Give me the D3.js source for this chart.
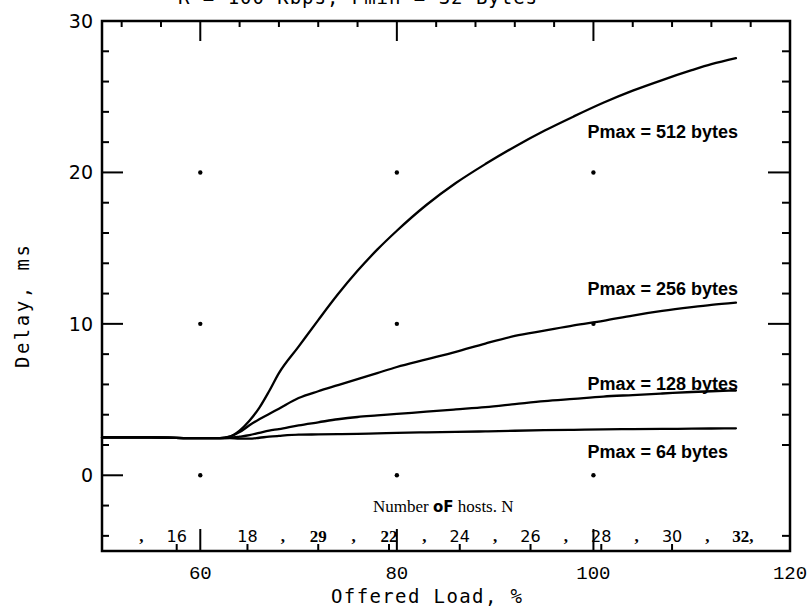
<!DOCTYPE html>
<html>
<head>
<meta charset="utf-8">
<script src="https://cdn.jsdelivr.net/npm/d3@7"></script>
<style>
  html, body { margin: 0; padding: 0; background: #fff; }
  svg { display: block; }
  .frame { fill: none; stroke: #000; stroke-width: 2.5; }
  .tick { stroke: #000; stroke-width: 2; }
  .curve { fill: none; stroke: #000; stroke-width: 2.3; stroke-linejoin: round; stroke-linecap: round; }
  .ylab { font-family: "DejaVu Sans", sans-serif; font-size: 19px; fill: #000; }
  .xlab { font-family: "Liberation Mono", monospace; font-size: 19px; fill: #000; }
  .axtitle { font-family: "DejaVu Sans Mono", monospace; font-size: 19px; fill: #000; }
  .series { font-family: "Liberation Sans", Arial, sans-serif; font-weight: bold; font-size: 18px; fill: #000; }
  .host { font-family: "DejaVu Sans", sans-serif; font-size: 16px; fill: #000; }
  .hostb { font-family: "Liberation Serif", serif; font-weight: bold; font-size: 17px; fill: #000; }
  .hosttitle { font-family: "Liberation Serif", serif; font-size: 17px; fill: #000; }
</style>
</head>
<body>
<svg id="chart" width="810" height="612"></svg>
<script>
// Offered load (%) at which each delay curve is sampled
const loads = [50, 55, 60, 62, 63, 64, 65, 66, 67, 68, 70, 72, 74, 76, 78, 80, 83, 86, 89, 92, 95, 98, 101, 104, 107, 110, 112, 114.5];

// Mean delay (ms) for each maximum packet size
const delay512 = [2.5, 2.5, 2.45, 2.45, 2.55, 2.95, 3.6, 4.45, 5.55, 6.75, 8.5, 10.25, 11.95, 13.5, 14.9, 16.15, 17.85, 19.3, 20.55, 21.7, 22.75, 23.7, 24.6, 25.4, 26.1, 26.75, 27.15, 27.55];
const delay256 = [2.5, 2.5, 2.45, 2.45, 2.55, 2.85, 3.3, 3.7, 4.05, 4.4, 5.1, 5.55, 5.95, 6.35, 6.75, 7.15, 7.65, 8.15, 8.7, 9.2, 9.55, 9.9, 10.2, 10.55, 10.85, 11.1, 11.25, 11.4];
const delay128 = [2.5, 2.5, 2.45, 2.45, 2.47, 2.55, 2.65, 2.8, 2.95, 3.05, 3.3, 3.5, 3.7, 3.85, 3.95, 4.05, 4.2, 4.35, 4.5, 4.7, 4.9, 5.05, 5.2, 5.3, 5.4, 5.5, 5.55, 5.6];
const delay64  = [2.5, 2.5, 2.45, 2.45, 2.45, 2.42, 2.42, 2.48, 2.55, 2.6, 2.68, 2.7, 2.72, 2.74, 2.77, 2.8, 2.84, 2.87, 2.9, 2.94, 2.98, 3.0, 3.03, 3.05, 3.06, 3.08, 3.09, 3.1];

const seriesNames = ["Pmax = 512 bytes", "Pmax = 256 bytes", "Pmax = 128 bytes", "Pmax = 64 bytes"];
const seriesValues = [delay512, delay256, delay128, delay64];

// Axis ticks
const yLabels = [0, 10, 20, 30];
const yTicks = d3.range(-4, 30, 2);
const yTicksRight = [-4, 2, 4, 6, 8, 10, 12, 14, 16, 18, 20, 22, 24, 26, 28];
const xLabels = [60, 80, 100, 120];
const xTicksTop = d3.range(52, 117, 4);
const xMajor = [60, 80, 100];
const gridDots = [[60, 0], [80, 0], [100, 0], [60, 10], [80, 10], [100, 10], [60, 20], [80, 20], [100, 20]];

// Host count scale along the bottom edge (load = 3.6 % per host)
const hostN = [15, 16, 17, 18, 19, 20, 21, 22, 23, 24, 25, 26, 27, 28, 29, 30, 31, 32];
const hostText = [",", "16", "", "18", ",", "29", ",", "22", ",", "24", ",", "26", ",", "28", ",", "30", ",", "32,"];
const hostBold = [true, false, false, false, true, true, true, true, true, false, true, false, true, false, true, false, true, true];
const loadPerHost = 3.6;

const svg = d3.select("#chart");

const x = d3.scaleLinear().domain([50, 120]).range([102, 790]);
const y = d3.scaleLinear().domain([-5, 30]).range([551, 21]);

const [x0, x1] = x.range();
const [yB, yT] = y.range();

// Heading, running off the top edge
svg.append("text")
  .attr("class", "axtitle")
  .attr("x", 178).attr("y", 3.5)
  .attr("textLength", 359).attr("lengthAdjust", "spacing")
  .text("R = 100 Kbps, Pmin = 32 Bytes");

// Left ticks
svg.append("g").selectAll("line").data(yTicks).join("line")
  .attr("class", "tick")
  .attr("x1", x0).attr("x2", d => x0 + (d % 10 === 0 ? 21 : 7))
  .attr("y1", d => y(d)).attr("y2", d => y(d));

// Right ticks
svg.append("g").selectAll("line").data(yTicksRight).join("line")
  .attr("class", "tick")
  .attr("x1", x1).attr("x2", d => x1 - (d % 10 === 0 ? 22 : 8))
  .attr("y1", d => y(d)).attr("y2", d => y(d));

// Top ticks
svg.append("g").selectAll("line").data(xTicksTop).join("line")
  .attr("class", "tick")
  .attr("x1", d => x(d)).attr("x2", d => x(d))
  .attr("y1", yT).attr("y2", d => yT + (xMajor.includes(d) ? 20 : 6));

// Bottom ticks: host positions (short) and major load marks (long)
svg.append("g").selectAll("line").data(hostN.filter(n => n % 2 === 0 && n < 32)).join("line")
  .attr("class", "tick")
  .attr("x1", n => x(n * loadPerHost)).attr("x2", n => x(n * loadPerHost))
  .attr("y1", yB).attr("y2", yB - 7);
svg.append("g").selectAll("line").data(xMajor).join("line")
  .attr("class", "tick")
  .attr("x1", d => x(d)).attr("x2", d => x(d))
  .attr("y1", yB).attr("y2", yB - 22);

// Frame
svg.append("rect").attr("class", "frame")
  .attr("x", x0).attr("y", yT)
  .attr("width", x1 - x0).attr("height", yB - yT);

// Reference dots
svg.append("g").selectAll("circle").data(gridDots).join("circle")
  .attr("cx", d => x(d[0])).attr("cy", d => y(d[1])).attr("r", 2.2).attr("fill", "#000");

// Y labels
svg.append("g").selectAll("text").data(yLabels).join("text")
  .attr("class", "ylab")
  .attr("x", 93).attr("y", d => y(d) + 7)
  .attr("text-anchor", "end")
  .text(d => d);

// X labels
svg.append("g").selectAll("text").data(xLabels).join("text")
  .attr("class", "xlab")
  .attr("x", d => x(d)).attr("y", 579)
  .attr("text-anchor", "middle")
  .text(d => d);

// Axis titles
svg.append("text").attr("class", "axtitle")
  .attr("x", 331).attr("y", 603)
  .attr("textLength", 191).attr("lengthAdjust", "spacing")
  .text("Offered Load, %");

svg.append("text").attr("class", "axtitle")
  .attr("transform", "translate(29,368) rotate(-90)")
  .attr("x", 0).attr("y", 0)
  .attr("textLength", 123).attr("lengthAdjust", "spacing")
  .text("Delay, ms");

// Host count axis title and labels
const ht = svg.append("text").attr("class", "hosttitle")
  .attr("x", 373).attr("y", 512);
ht.append("tspan").text("Number ");
ht.append("tspan").attr("font-family", "DejaVu Sans, sans-serif").attr("font-weight", "bold").attr("font-size", "15px").text("oF");
ht.append("tspan").text(" hosts.  N");

svg.append("g").selectAll("text").data(hostN).join("text")
  .attr("class", (n, i) => hostBold[i] ? "hostb" : "host")
  .attr("x", n => x(n * loadPerHost)).attr("y", 542)
  .attr("text-anchor", "middle")
  .text((n, i) => hostText[i]);

// Delay curves
const line = d3.line()
  .x((d, i) => x(loads[i]))
  .y(d => y(d))
  .curve(d3.curveMonotoneX);

svg.append("g").selectAll("path").data(seriesValues).join("path")
  .attr("class", "curve")
  .attr("d", d => line(d));

// Curve labels placed to the right, just beside each curve
const labelAt = [22.3, 11.9, 5.6, 1.15];
svg.append("g").selectAll("text").data(seriesNames).join("text")
  .attr("class", "series")
  .attr("x", x(99.4)).attr("y", (d, i) => y(labelAt[i]))
  .text(d => d);
</script>
</body>
</html>
